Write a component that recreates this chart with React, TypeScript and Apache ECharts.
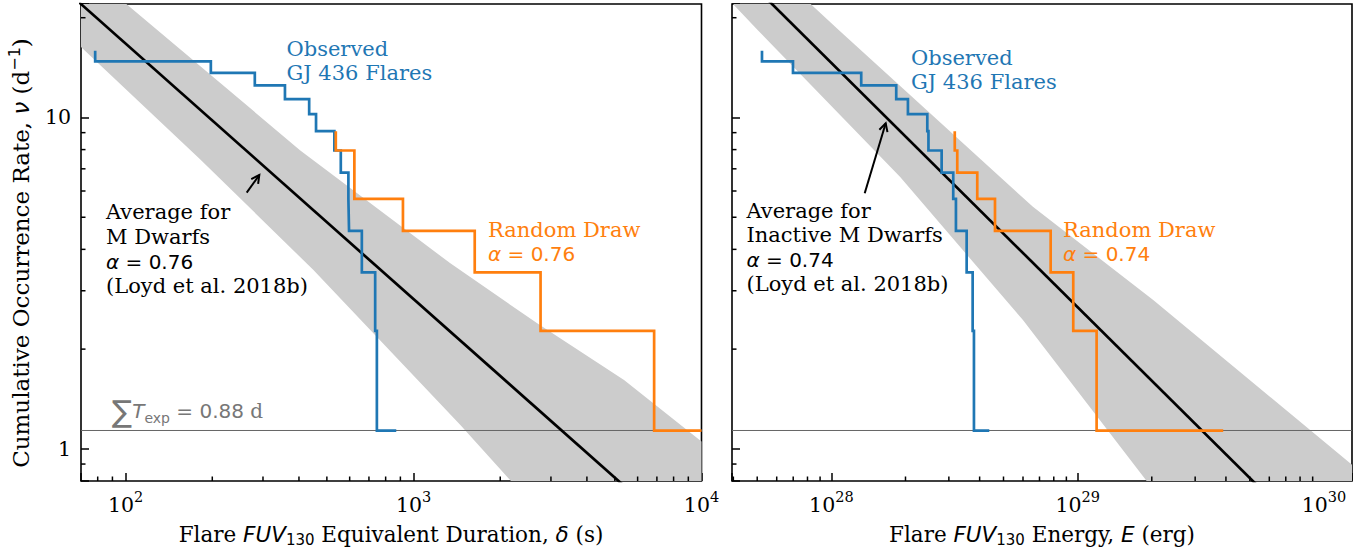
import React, { useEffect, useRef } from 'react';
import * as echarts from 'echarts';

const SERIF = 'DejaVu Serif';
const SANS = 'DejaVu Sans';
const BLUE = '#1f77b4';
const ORANGE = '#ff7f0e';

// axis ranges
const Y_MIN = 0.8;
const Y_MAX = 22;
const DUR_MIN = 70;
const DUR_MAX = 10000;
const EN_MIN = 3.95e27;
const EN_MAX = 1.3e30;

// tick values
const Y_MINOR_TICKS = [0.9, 2, 3, 4, 5, 6, 7, 8, 9, 20];
const DUR_MINOR_TICKS = [80, 90, 200, 300, 400, 500, 600, 700, 800, 900, 2000, 3000, 4000, 5000, 6000, 7000, 8000, 9000];
const EN_MINOR_TICKS = [4e27, 5e27, 6e27, 7e27, 8e27, 9e27, 2e28, 3e28, 4e28, 5e28, 6e28, 7e28, 8e28, 9e28, 2e29, 3e29, 4e29, 5e29, 6e29, 7e29, 8e29, 9e29];

// total exposure (d)
const T_EXP_DAYS = 0.88;

// observed cumulative rates (d^-1), one level per step
const OBS_LEVELS = [15.9, 14.77, 13.64, 12.5, 11.36, 10.23, 9.09, 7.95, 6.82, 5.68, 4.55, 3.41, 2.27, 1.136];
// equivalent durations (s) where the observed curve steps down
const OBS_DUR_EDGES = [78.4, 197.7, 281, 357.6, 434, 458.5, 530.9, 558.9, 593.9, 597, 661.3, 735.7, 745.8];
const OBS_DUR_END = 870.9;
// energies (erg) where the observed curve steps down
const OBS_EN_EDGES = [5.228e27, 6.986e27, 1.322e28, 1.834e28, 2.046e28, 2.452e28, 2.479e28, 2.804e28, 3.125e28, 3.205e28, 3.543e28, 3.747e28, 3.793e28];
const OBS_EN_END = 4.377e28;

// random draws
const RAND_DUR_LEVELS = [9.09, 7.95, 5.68, 4.55, 3.41, 2.27, 1.136];
const RAND_DUR_EDGES = [537, 623, 918.7, 1631, 2761, 6847];
const RAND_DUR_END = 10000;
const RAND_EN_LEVELS = [9.09, 7.95, 6.82, 5.68, 4.55, 3.41, 2.27, 1.136];
const RAND_EN_EDGES = [3.17e28, 3.245e28, 3.912e28, 4.617e28, 7.771e28, 9.597e28, 1.194e29];
const RAND_EN_END = 3.9e29;

// average power laws (read endpoints)
const AVG_DUR_LINE = [[50, 28.5], [10000, 0.48]];
const AVG_EN_LINE = [[3e27, 35.5], [2e30, 0.294]];

// uncertainty band edges
const BAND_DUR_UPPER = [[100.6, 22], [403.3, 7.97], [1342, 3.63], [2688, 2.393], [5382, 1.614], [10000, 1.052]];
const BAND_DUR_LOWER = [[70, 16.32], [181, 7.5], [449, 3.465], [1454, 1.181], [2179, 0.8]];
const BAND_EN_UPPER = [[8.24e27, 22], [1.074e28, 18.33], [6.582e28, 5.377], [2.027e29, 2.813], [1.3e30, 0.895]];
const BAND_EN_LOWER = [[3.986e27, 22], [5.03e27, 18.33], [1.899e28, 6.62], [5.996e28, 2.448], [1.906e29, 0.8]];

function stepPoints(edges: number[], levels: number[], end: number): number[][] {
  const pts: number[][] = [];
  for (let i = 0; i < edges.length; i++) {
    pts.push([edges[i], levels[i]]);
    pts.push([edges[i], levels[i + 1]]);
  }
  pts.push([end, levels[levels.length - 1]]);
  return pts;
}

function bandPolygon(upper: number[][], lower: number[][], xMin: number, xMax: number): number[][] {
  return [[xMin, Y_MAX], ...upper, [xMax, Y_MIN], ...lower.slice().reverse()];
}

function bandSeries(idx: number, poly: number[][]) {
  return {
    type: 'custom',
    coordinateSystem: 'cartesian2d',
    xAxisIndex: idx,
    yAxisIndex: idx,
    silent: true,
    clip: true,
    z: 1,
    data: [[poly[0][0], poly[0][1]]],
    renderItem: (_p: any, api: any) => ({
      type: 'polygon',
      shape: { points: poly.map((p) => api.coord(p)) },
      style: { fill: '#cccccc' },
    }),
  };
}

function minorTickSeries(idx: number, xMinors: number[], xMin: number) {
  return {
    type: 'custom',
    coordinateSystem: 'cartesian2d',
    xAxisIndex: idx,
    yAxisIndex: idx,
    silent: true,
    z: 10,
    data: [[xMin, Y_MIN]],
    renderItem: (_p: any, api: any) => {
      const children: any[] = [];
      for (const v of Y_MINOR_TICKS) {
        const p = api.coord([xMin, v]);
        children.push({ type: 'line', shape: { x1: p[0], y1: p[1], x2: p[0] + 4.5, y2: p[1] }, style: { stroke: '#000', lineWidth: 1.5 } });
      }
      for (const v of xMinors) {
        const p = api.coord([v, Y_MIN]);
        children.push({ type: 'line', shape: { x1: p[0], y1: p[1], x2: p[0], y2: p[1] - 4.5 }, style: { stroke: '#000', lineWidth: 1.5 } });
      }
      return { type: 'group', children };
    },
  };
}

function lineSeries(idx: number, data: number[][], color: string, width: number, z: number) {
  return {
    type: 'line',
    xAxisIndex: idx,
    yAxisIndex: idx,
    data,
    symbol: 'none',
    silent: true,
    clip: true,
    z,
    lineStyle: { color, width, join: 'miter', cap: 'butt' },
  };
}

const isPow10 = (v: number) => Math.abs(Math.log10(v) - Math.round(Math.log10(v))) < 1e-6;

const TICK_RICH = {
  b: { fontFamily: SERIF, fontSize: 20.5, lineHeight: 26, verticalAlign: 'bottom', color: '#000' },
  s: { fontFamily: SERIF, fontSize: 14.5, lineHeight: 14, verticalAlign: 'top', color: '#000' },
};

function xAxis(idx: number, min: number, max: number) {
  return {
    type: 'log',
    logBase: 10,
    gridIndex: idx,
    min,
    max,
    axisLine: { show: false },
    splitLine: { show: false },
    axisTick: { show: true, inside: true, length: 8, lineStyle: { color: '#000', width: 1.5 } },
    axisLabel: {
      margin: 8,
      formatter: (v: number) => (isPow10(v) ? `{b|10}{s|${Math.round(Math.log10(v))}}` : ''),
      rich: TICK_RICH,
    },
  };
}

function yAxis(idx: number, showLabels: boolean) {
  return {
    type: 'log',
    logBase: 10,
    gridIndex: idx,
    min: Y_MIN,
    max: Y_MAX,
    axisLine: { show: false },
    splitLine: { show: false },
    axisTick: { show: true, inside: true, length: 8, lineStyle: { color: '#000', width: 1.5 } },
    axisLabel: {
      show: showLabels,
      margin: 10,
      color: '#000',
      fontFamily: SERIF,
      fontSize: 20.5,
      formatter: (v: number) => (isPow10(v) ? String(Math.round(v)) : ''),
    },
  };
}

const ANN_SIZE = 21;

function text(x: number, y: number, str: string, color: string, family = SERIF, size = ANN_SIZE) {
  return {
    type: 'text',
    x,
    y,
    z: 100,
    silent: true,
    style: {
      text: str,
      fill: color,
      fontFamily: family,
      fontSize: size,
      textAlign: 'left',
      align: 'left',
      textVerticalAlign: 'middle',
      verticalAlign: 'middle',
    },
  };
}

function richText(x: number, y: number, str: string, rich: any, align = 'left', rotation = 0) {
  return {
    type: 'text',
    x,
    y,
    z: 100,
    rotation,
    silent: true,
    style: {
      text: str,
      rich,
      textAlign: align,
      align,
      textVerticalAlign: 'middle',
      verticalAlign: 'middle',
    },
  };
}

function alphaText(x: number, y: number, val: string, color: string) {
  return richText(x, y, `{g|α}{r| = ${val}}`, {
    g: { fontFamily: SANS, fontStyle: 'italic', fontSize: 20, fill: color, color },
    r: { fontFamily: SANS, fontSize: 20, fill: color, color },
  });
}

function arrow(tx: number, ty: number, hx: number, hy: number) {
  const dx = hx - tx;
  const dy = hy - ty;
  const len = Math.hypot(dx, dy);
  const ux = dx / len;
  const uy = dy / len;
  const wing = 9;
  const ang = (28 * Math.PI) / 180;
  const w1x = hx - wing * (ux * Math.cos(ang) - uy * Math.sin(ang));
  const w1y = hy - wing * (uy * Math.cos(ang) + ux * Math.sin(ang));
  const w2x = hx - wing * (ux * Math.cos(ang) + uy * Math.sin(ang));
  const w2y = hy - wing * (uy * Math.cos(ang) - ux * Math.sin(ang));
  const st = { stroke: '#000', lineWidth: 2, fill: 'none' };
  return [
    { type: 'line', z: 100, silent: true, shape: { x1: tx, y1: ty, x2: hx, y2: hy }, style: st },
    { type: 'polyline', z: 100, silent: true, shape: { points: [[w1x, w1y], [hx, hy], [w2x, w2y]] }, style: st },
  ];
}

function labelRich(size: number) {
  const sub = Math.round(size * 0.7);
  return {
    r: { fontFamily: SERIF, fontSize: size, lineHeight: size + 6, verticalAlign: 'middle', fill: '#000', color: '#000' },
    i: { fontFamily: SANS, fontStyle: 'italic', fontSize: size, lineHeight: size + 6, verticalAlign: 'middle', fill: '#000', color: '#000' },
    sub: { fontFamily: SANS, fontSize: sub, lineHeight: sub, verticalAlign: 'bottom', fill: '#000', color: '#000' },
    sup: { fontFamily: SANS, fontSize: sub, lineHeight: sub, verticalAlign: 'top', fill: '#000', color: '#000' },
  };
}

const GRAY_TXT = '#777777';
const SUM_RICH = {
  sum: { fontFamily: SANS, fontSize: 30, lineHeight: 34, verticalAlign: 'middle', fill: GRAY_TXT, color: GRAY_TXT },
  t: { fontFamily: SANS, fontStyle: 'italic', fontSize: 20, lineHeight: 34, verticalAlign: 'middle', fill: GRAY_TXT, color: GRAY_TXT },
  sub: { fontFamily: SANS, fontSize: 14, lineHeight: 14, verticalAlign: 'bottom', fill: GRAY_TXT, color: GRAY_TXT, padding: [0, 0, 3, 0] },
  r: { fontFamily: SANS, fontSize: 20, lineHeight: 34, verticalAlign: 'middle', fill: GRAY_TXT, color: GRAY_TXT },
  d: { fontFamily: SERIF, fontSize: 20, lineHeight: 34, verticalAlign: 'middle', fill: GRAY_TXT, color: GRAY_TXT },
};

export default function App() {
  const ref = useRef<HTMLDivElement>(null);
  useEffect(() => {
    if (!ref.current) return;
    const chart = echarts.init(ref.current, null, { renderer: 'svg' });
    const rate = 1 / T_EXP_DAYS;
    const option: any = {
      animation: false,
      backgroundColor: '#ffffff',
      grid: [
        { left: 81, top: 4, width: 620.5, height: 477, show: true, borderColor: '#000', borderWidth: 1.6, backgroundColor: 'transparent', outerBoundsMode: 'none', containLabel: false },
        { left: 732, top: 4, width: 620, height: 477, show: true, borderColor: '#000', borderWidth: 1.6, backgroundColor: 'transparent', outerBoundsMode: 'none', containLabel: false },
      ],
      xAxis: [xAxis(0, DUR_MIN, DUR_MAX), xAxis(1, EN_MIN, EN_MAX)],
      yAxis: [yAxis(0, true), yAxis(1, false)],
      series: [
        bandSeries(0, bandPolygon(BAND_DUR_UPPER, BAND_DUR_LOWER, DUR_MIN, DUR_MAX)),
        bandSeries(1, bandPolygon(BAND_EN_UPPER, BAND_EN_LOWER, EN_MIN, EN_MAX)),
        lineSeries(0, [[DUR_MIN, rate], [DUR_MAX, rate]], '#666666', 1, 2),
        lineSeries(1, [[EN_MIN, rate], [EN_MAX, rate]], '#666666', 1, 2),
        lineSeries(0, AVG_DUR_LINE, '#000000', 2.7, 3),
        lineSeries(1, AVG_EN_LINE, '#000000', 2.7, 3),
        lineSeries(0, stepPoints(OBS_DUR_EDGES, OBS_LEVELS, OBS_DUR_END), BLUE, 2.7, 4),
        lineSeries(1, stepPoints(OBS_EN_EDGES, OBS_LEVELS, OBS_EN_END), BLUE, 2.7, 4),
        lineSeries(0, stepPoints(RAND_DUR_EDGES, RAND_DUR_LEVELS, RAND_DUR_END), ORANGE, 2.7, 5),
        lineSeries(1, stepPoints(RAND_EN_EDGES, RAND_EN_LEVELS, RAND_EN_END), ORANGE, 2.7, 5),
        minorTickSeries(0, DUR_MINOR_TICKS, DUR_MIN),
        minorTickSeries(1, EN_MINOR_TICKS, EN_MIN),
      ],
      graphic: {
        elements: [
          // left panel annotations
          text(286.5, 48.5, 'Observed', BLUE),
          text(286.5, 72.5, 'GJ 436 Flares', BLUE),
          text(106, 211.5, 'Average for', '#000'),
          text(106, 236.5, 'M Dwarfs', '#000'),
          alphaText(106, 262, '0.76', '#000'),
          text(106, 285.5, '(Loyd et al. 2018b)', '#000'),
          text(488, 229.5, 'Random Draw', ORANGE),
          alphaText(488, 254, '0.76', ORANGE),
          richText(112, 411, '{sum|∑}{t|T}{sub|exp}{r| = 0.88 }{d|d}', SUM_RICH),
          ...arrow(246.7, 192.7, 259.3, 175),
          // right panel annotations
          text(911, 58, 'Observed', BLUE),
          text(911, 82, 'GJ 436 Flares', BLUE),
          text(746.5, 210.5, 'Average for', '#000'),
          text(746.5, 234.5, 'Inactive M Dwarfs', '#000'),
          alphaText(746.5, 260, '0.74', '#000'),
          text(746.5, 283.5, '(Loyd et al. 2018b)', '#000'),
          text(1063, 229.5, 'Random Draw', ORANGE),
          alphaText(1063, 254, '0.74', ORANGE),
          ...arrow(864.7, 193.3, 885.7, 123.3),
          // axis names
          richText(21, 253, '{r|Cumulative Occurrence Rate, }{i|ν}{r| (d}{sup|−1}{r|)}', labelRich(23), 'center', Math.PI / 2),
          richText(391, 534, '{r|Flare }{i|FUV}{sub|130}{r| Equivalent Duration, }{i|δ}{r| (s)}', labelRich(21.5), 'center'),
          richText(1042, 534, '{r|Flare }{i|FUV}{sub|130}{r| Energy, }{i|E}{r| (erg)}', labelRich(21.5), 'center'),
        ],
      },
    };
    chart.setOption(option);
    return () => chart.dispose();
  }, []);
  return <div ref={ref} style={{ position: 'fixed', left: 0, top: 0, width: 1369, height: 550 }} />;
}
